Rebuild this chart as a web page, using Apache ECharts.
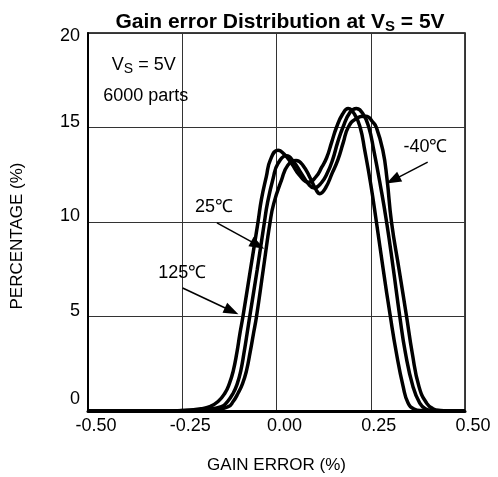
<!DOCTYPE html>
<html><head><meta charset="utf-8">
<script src="https://cdn.jsdelivr.net/npm/echarts@6/dist/echarts.min.js"></script>
<style>html,body{margin:0;padding:0;background:#fff}#c{width:498px;height:477px}</style>
</head><body><div id="c"></div>
<script>
// x ticks
const xTicks = [-0.5, -0.25, 0, 0.25, 0.5];
const yTicks = [0, 5, 10, 15, 20];
// Curves: [gain error %, percentage %]
const curve125 = [[-0.5,0],[-0.3,0],[-0.25,0.03],[-0.2,0.12],[-0.177,0.23],[-0.155,0.5],[-0.137,0.94],[-0.125,1.45],[-0.115,2.1],[-0.105,3.1],[-0.097,4.1],[-0.089,5.0],[-0.069,7.5],[-0.049,10.0],[-0.04,11.2],[-0.027,12.4],[-0.016,13.3],[0.004,13.8],[0.02,13.6],[0.04,13.1],[0.06,12.5],[0.085,12.1],[0.105,12.4],[0.12,12.9],[0.133,13.4],[0.146,14.2],[0.159,15.0],[0.175,15.7],[0.19,16.0],[0.207,15.7],[0.222,15.0],[0.234,13.8],[0.25,12.0],[0.265,10.0],[0.283,7.5],[0.302,5.0],[0.318,3.07],[0.336,1.29],[0.349,0.42],[0.365,0.1],[0.385,0.02],[0.42,0],[0.5,0]];
const curve25 = [[-0.5,0],[-0.3,0],[-0.25,0.02],[-0.19,0.08],[-0.146,0.23],[-0.13,0.5],[-0.115,0.94],[-0.104,1.45],[-0.095,2.1],[-0.086,3.1],[-0.078,4.1],[-0.071,5.0],[-0.051,7.5],[-0.032,10.0],[-0.024,11.0],[-0.009,12.3],[0.004,13.1],[0.027,13.5],[0.045,13.2],[0.065,12.6],[0.085,12.0],[0.1,11.8],[0.12,12.1],[0.135,12.6],[0.149,13.3],[0.162,14.2],[0.176,15.0],[0.195,15.8],[0.212,16.0],[0.23,15.7],[0.245,15.0],[0.258,13.8],[0.275,12.0],[0.292,10.0],[0.31,7.5],[0.327,5.0],[0.342,3.07],[0.362,1.29],[0.38,0.42],[0.395,0.12],[0.415,0.03],[0.45,0],[0.5,0]];
const curveM40 = [[-0.5,0],[-0.3,0],[-0.25,0.01],[-0.17,0.05],[-0.128,0.23],[-0.115,0.5],[-0.102,0.94],[-0.09,1.45],[-0.08,2.1],[-0.07,3.1],[-0.061,4.1],[-0.053,5.0],[-0.035,7.5],[-0.017,10.0],[-0.007,11.0],[0.013,12.2],[0.03,13.0],[0.052,13.25],[0.07,13.0],[0.09,12.3],[0.105,11.7],[0.115,11.5],[0.13,11.8],[0.148,12.6],[0.163,13.3],[0.177,14.2],[0.19,15.0],[0.21,15.45],[0.237,15.6],[0.255,15.3],[0.265,15.0],[0.282,13.8],[0.293,12.3],[0.305,10.0],[0.325,7.5],[0.345,5.0],[0.36,3.07],[0.378,1.29],[0.398,0.42],[0.415,0.12],[0.435,0.03],[0.47,0],[0.5,0]];
// annotations: label position and arrow [from, to] in data units
const labels = ['-40℃', '25℃', '125℃'];
const labelPos = [[0.395, 13.97], [-0.166, 10.79], [-0.25, 7.3]];
const arrows = [[[0.401, 13.17], [0.309, 12.22]], [[-0.158, 9.95], [-0.05, 8.78]], [[-0.249, 6.51], [-0.119, 5.29]]];
const noteLines = ['{v|V}{s|S}{v| = 5V}', '6000 parts'];
const notePos = [[-0.352, 18.3], [-0.347, 16.67]];

const F = 'Liberation Sans, Arial, sans-serif';
const chart = echarts.init(document.getElementById('c'), null, {renderer: 'canvas'});

function curveSeries(name, data) {
  return {
    name: name, type: 'line', data: data, smooth: 0.5,
    showSymbol: false, symbol: 'none',
    lineStyle: {color: '#000', width: 3.5}, z: 5, silent: true
  };
}

const option = {
  animation: false,
  backgroundColor: '#fff',
  title: {
    text: '{b|Gain error Distribution at V}{s|S}{b| = 5V}',
    left: 275, top: 5, textAlign: 'center',
    textStyle: {
      rich: {
        b: {fontFamily: F, fontWeight: 'bold', fontSize: 21, color: '#000'},
        s: {fontFamily: F, fontWeight: 'bold', fontSize: 15, color: '#000', padding: [9, 0, 0, 0]}
      }
    }
  },
  grid: {left: 88, right: 33, top: 33, bottom: 66, outerBoundsMode: 'none', containLabel: false, show: true, borderColor: '#000', borderWidth: 1.5, backgroundColor: 'transparent'},
  xAxis: {
    type: 'value', min: xTicks[0], max: xTicks[xTicks.length - 1], interval: 0.25,
    name: 'GAIN ERROR (%)', nameLocation: 'middle', nameGap: 46,
    nameTextStyle: {fontFamily: F, fontSize: 17, color: '#000'},
    axisLine: {show: true, onZero: false, lineStyle: {color: '#000', width: 3}},
    axisTick: {show: false},
    axisLabel: {fontFamily: F, fontSize: 18, color: '#000', margin: 6, padding: [0, 0, 0, 16], formatter: v => v.toFixed(2)},
    splitLine: {show: true, lineStyle: {color: '#333', width: 1}}
  },
  yAxis: {
    type: 'value', min: yTicks[0], max: yTicks[yTicks.length - 1], interval: 5,
    name: 'PERCENTAGE (%)', nameLocation: 'middle', nameGap: 62, nameRotate: 90,
    nameTextStyle: {fontFamily: F, fontSize: 17, color: '#000', padding: [0, 28, 0, 0]},
    axisLine: {show: true, onZero: false, lineStyle: {color: '#000', width: 2}},
    axisTick: {show: false},
    axisLabel: {
      fontFamily: F, fontSize: 18, color: '#000', margin: 8,
      formatter: v => v === 0 ? '{z|0}' : (v === 20 ? '{t|20}' : '{n|' + v + '}'),
      rich: {
        z: {fontFamily: F, fontSize: 18, color: '#000', padding: [0, 0, 24, 0]},
        t: {fontFamily: F, fontSize: 18, color: '#000', padding: [6, 0, 0, 0]},
        n: {fontFamily: F, fontSize: 18, color: '#000', padding: [0, 0, 11, 0]}
      }
    },
    splitLine: {show: true, lineStyle: {color: '#333', width: 1}}
  },
  series: [
    curveSeries('125℃', curve125),
    curveSeries('25℃', curve25),
    curveSeries('-40℃', curveM40),
    {
      type: 'scatter', data: labelPos.map((p, i) => ({value: p, name: labels[i]})),
      symbolSize: 0, silent: true, z: 6, itemStyle: {opacity: 1, color: '#000'},
      label: {show: true, position: 'inside', formatter: p => p.name, fontFamily: F, fontSize: 18, color: '#000', opacity: 1},
      markLine: {
        silent: true, symbol: ['none', 'triangle'], symbolSize: [11, 15],
        lineStyle: {color: '#000', width: 1.5, type: 'solid', opacity: 1},
        itemStyle: {color: '#000', opacity: 1},
        label: {show: false},
        data: arrows.map(a => [{coord: a[0], symbol: 'none'}, {coord: a[1]}])
      }
    },
    {
      type: 'scatter', data: notePos.map((p, i) => ({value: p, name: noteLines[i]})),
      symbolSize: 0, silent: true, z: 6, itemStyle: {opacity: 1, color: '#000'},
      label: {
        show: true, position: 'inside', formatter: p => p.name, fontFamily: F, fontSize: 18, color: '#000', opacity: 1,
        rich: {
          v: {fontFamily: F, fontSize: 18, color: '#000'},
          s: {fontFamily: F, fontSize: 14, color: '#000', padding: [8, 0, 0, 0]}
        }
      }
    }
  ]
};
chart.setOption(option);
</script>
</body></html>
